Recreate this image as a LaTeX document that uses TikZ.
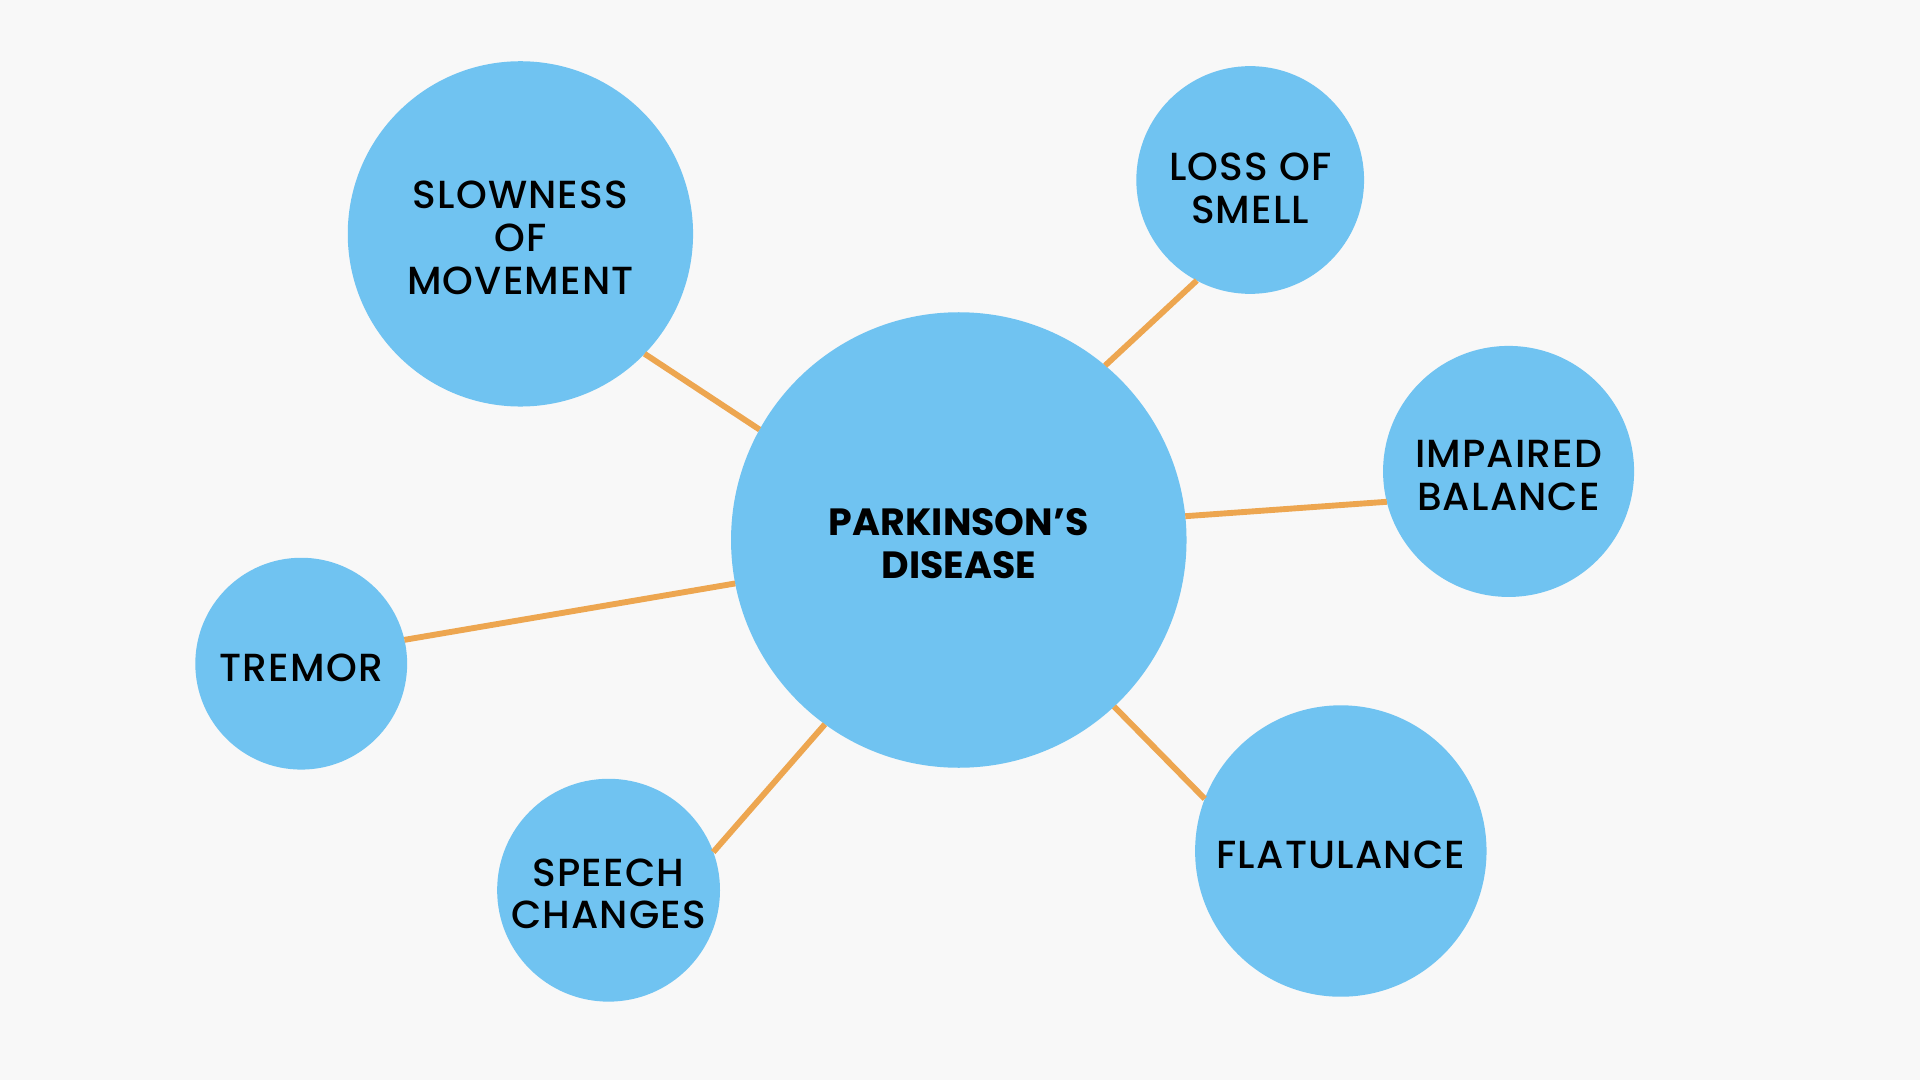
\documentclass[tikz,border=0pt]{standalone}
\usepackage{fontspec}
\setmainfont{Poppins}
\newfontfamily\tagfont{Poppins}[UprightFont=* Medium,LetterSpace=3]
\usepackage{tikz}
\usetikzlibrary{shapes,positioning,calc,backgrounds}
\definecolor{bubbleblue}{RGB}{112,195,241}
\definecolor{linkorange}{RGB}{237,166,80}
\definecolor{pagegray}{RGB}{248,248,248}

\tikzset{
    bubble/.style={circle,fill=bubbleblue,inner sep=0pt,outer sep=0pt},
    tag/.style={align=center,inner sep=0pt,yshift=-1.5pt,
        font=\tagfont\fontsize{16}{17.5}\selectfont},
    link/.style={linkorange,line width=2.4pt}
}

\begin{document}
\begin{tikzpicture}[x=0.5pt,y=-0.5pt]
    % page
    \fill[pagegray] (0,0) rectangle (1568,882);
    \useasboundingbox (0,0) rectangle (1568,882);

    % bubbles
    \node[bubble,minimum size=186pt] (pd) at (783,441) {};
    \node[bubble,minimum size=141pt] (slow) at (425,191) {};
    \node[bubble,minimum size=93pt] (smell) at (1021,147) {};
    \node[bubble,minimum size=102.5pt] (balance) at (1232,385) {};
    \node[bubble,minimum size=119pt] (flat) at (1095,695) {};
    \node[bubble,minimum size=91pt] (speech) at (497,727) {};
    \node[bubble,minimum size=86.5pt] (tremor) at (246,542) {};

    % texts
    \node[tag,font=\fontsize{15.5}{17.5}\selectfont\bfseries] (pd-t) at (pd) {PARKINSON’S\\DISEASE};
    \node[tag] (slow-t) at (slow) {SLOWNESS\\OF\\MOVEMENT};
    \node[tag,yshift=-2pt] (smell-t) at (smell) {LOSS OF\\SMELL};
    \node[tag] (balance-t) at (balance) {IMPAIRED\\BALANCE};
    \node[tag] (flat-t) at (flat) {FLATULANCE};
    \node[tag] (speech-t) at (speech) {SPEECH\\CHANGES};
    \node[tag] (tremor-t) at (tremor) {TREMOR};

    % links
    \draw[link] (pd.151) -- (slow.316);
    \draw[link] (pd.50) -- (smell.242);
    \draw[link] (pd.6) -- (balance.194);
    \draw[link] (pd.313) -- (flat.159);
    \draw[link] (pd.234) -- (speech.20);
    \draw[link] (pd.191) -- (tremor.13);
\end{tikzpicture}
\end{document}
